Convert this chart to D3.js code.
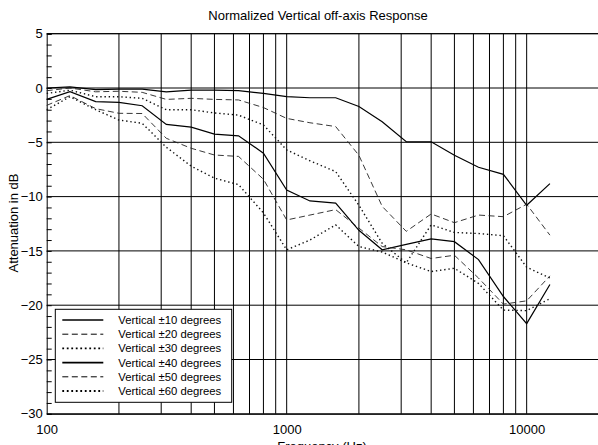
<!DOCTYPE html>
<html>
<head>
<meta charset="utf-8">
<style>
  body { margin: 0; background: #fff; }
  svg text { font-family: "Liberation Sans", Arial, Helvetica, sans-serif; fill: #000; }
</style>
</head>
<body>
<div id="chart"></div>
<script src="https://d3js.org/d3.v7.min.js"></script>
<script>
// third-octave centre frequencies (Hz)
var freqs = [100, 125, 160, 200, 250, 315, 400, 500, 630, 800, 1000, 1250, 1600, 2000, 2500, 3150, 4000, 5000, 6300, 8000, 10000, 12500];

// attenuation in dB
var vert10 = [0, 0.1, -0.15, -0.1, -0.1, -0.35, -0.2, -0.2, -0.25, -0.5, -0.8, -0.9, -0.9, -1.7, -3.1, -4.95, -4.95, -6.2, -7.3, -7.95, -10.8, -8.8];
var vert20 = [-0.25, 0, -0.35, -0.3, -0.4, -1.05, -0.95, -1.05, -1.1, -1.8, -2.8, -3.2, -3.55, -6.2, -10.9, -13.2, -11.6, -12.4, -11.7, -11.85, -10.7, -13.55];
var vert30 = [-0.5, -0.2, -0.8, -0.8, -0.95, -2.0, -2.0, -2.3, -2.5, -3.4, -5.7, -6.7, -7.7, -10.8, -14.3, -16.1, -12.6, -13.3, -13.4, -13.6, -16.5, -17.5];
var vert40 = [-1.05, -0.34, -1.26, -1.32, -1.63, -3.35, -3.6, -4.24, -4.4, -6.0, -9.4, -10.4, -10.6, -13.1, -14.9, -14.4, -13.9, -14.15, -15.8, -19.2, -21.7, -18.1];
var vert50 = [-1.6, -0.7, -1.9, -2.33, -2.35, -4.63, -5.55, -6.17, -6.3, -8.4, -12.15, -11.7, -11.2, -12.9, -14.6, -14.9, -15.7, -15.4, -17.5, -19.9, -19.6, -17.3];
var vert60 = [-2.0, -0.8, -2.0, -2.95, -3.25, -5.45, -7.2, -8.3, -8.9, -11.5, -14.9, -14.0, -12.6, -14.6, -15.1, -16.1, -16.9, -16.6, -18.0, -20.45, -20.5, -19.4];

var seriesNames = ["Vertical \u00b110 degrees", "Vertical \u00b120 degrees", "Vertical \u00b130 degrees",
                   "Vertical \u00b140 degrees", "Vertical \u00b150 degrees", "Vertical \u00b160 degrees"];
var seriesValues = [vert10, vert20, vert30, vert40, vert50, vert60];

// axis ticks
var xLabelTicks = [100, 1000, 10000];
var xGridTicks = [200, 300, 400, 500, 600, 700, 800, 900, 1000, 2000, 3000, 4000, 5000, 6000, 7000, 8000, 9000, 10000];
var yLabelTicks = [5, 0, -5, -10, -15, -20, -25, -30];
var yMinorTicks = d3.range(-30, 6, 1);

// line styles: solid, dashed, dotted, repeated
var styles = [
  { dash: null, width: 1.2, color: "#000" },
  { dash: "6,3.5", width: 0.9, color: "#222" },
  { dash: "1.4,2.8", width: 1.4, color: "#111" },
  { dash: null, width: 1.2, color: "#000" },
  { dash: "6,3.5", width: 0.9, color: "#222" },
  { dash: "1.4,2.8", width: 1.4, color: "#111" }
];

var W = 598, H = 445;
var margin = { top: 33.7, left: 46.7, bottom: 413.8 };

var x = d3.scaleLog().domain([100, 20000]).range([margin.left, 598.9]);
var y = d3.scaleLinear().domain([5, -30]).range([margin.top, margin.bottom]);

var svg = d3.select("#chart").append("svg")
    .attr("width", W)
    .attr("height", H);

// grid
var grid = svg.append("g").attr("stroke", "#000").attr("stroke-width", 1);
grid.selectAll("line.vg").data(xGridTicks).enter().append("line")
    .attr("class", "vg")
    .attr("x1", function(d) { return x(d); })
    .attr("x2", function(d) { return x(d); })
    .attr("y1", margin.top)
    .attr("y2", margin.bottom);
grid.selectAll("line.hg").data(yLabelTicks).enter().append("line")
    .attr("class", "hg")
    .attr("x1", margin.left)
    .attr("x2", x(20000))
    .attr("y1", function(d) { return y(d); })
    .attr("y2", function(d) { return y(d); });

// minor ticks on the left edge, pointing in
svg.append("g")
    .attr("transform", "translate(" + margin.left + ",0)")
    .call(d3.axisRight(y).tickValues(yMinorTicks).tickSize(5).tickFormat(""))
    .call(function(g) { g.select(".domain").attr("stroke", "#000"); });

// y labels
svg.append("g")
    .attr("transform", "translate(" + margin.left + ",0)")
    .call(d3.axisLeft(y).tickValues(yLabelTicks).tickSize(0).tickPadding(4))
    .call(function(g) {
      g.select(".domain").remove();
      g.selectAll("text").style("font-size", "13px").attr("font-family", null);
    });

// x labels
svg.append("g")
    .attr("transform", "translate(0," + margin.bottom + ")")
    .call(d3.axisBottom(x).tickValues(xLabelTicks).tickSize(0).tickPadding(11).tickFormat(d3.format("d")))
    .call(function(g) {
      g.select(".domain").attr("stroke", "#000");
      g.selectAll("text").style("font-size", "13px").attr("font-family", null);
    });

// top frame
svg.append("line")
    .attr("x1", margin.left).attr("x2", x(20000))
    .attr("y1", margin.top).attr("y2", margin.top)
    .attr("stroke", "#000");

// curves
var line = d3.line()
    .x(function(d) { return x(d[0]); })
    .y(function(d) { return y(d[1]); });

seriesValues.forEach(function(vals, i) {
  svg.append("path")
      .datum(freqs.map(function(f, j) { return [f, vals[j]]; }))
      .attr("fill", "none")
      .attr("stroke", styles[i].color)
      .attr("stroke-width", styles[i].width)
      .attr("stroke-dasharray", styles[i].dash)
      .attr("d", line);
});

// legend
var legend = svg.append("g").attr("transform", "translate(55.3,309.3)");
legend.append("rect")
    .attr("width", 176.4)
    .attr("height", 93)
    .attr("fill", "#fff")
    .attr("stroke", "#000")
    .attr("stroke-width", 1);

var rows = legend.selectAll("g.row").data(seriesNames).enter().append("g")
    .attr("class", "row")
    .attr("transform", function(d, i) { return "translate(0," + (10.7 + i * 14.2) + ")"; });
rows.append("line")
    .attr("x1", 7).attr("x2", 48)
    .attr("stroke", "#000")
    .attr("stroke-width", function(d, i) { return styles[i].dash ? (i % 3 === 2 ? 1.8 : 1) : 1.6; })
    .attr("stroke-dasharray", function(d, i) { return i % 3 === 2 ? "1.8,2.7" : styles[i].dash; });
rows.append("text")
    .attr("x", 63)
    .attr("dy", "0.35em")
    .style("font-size", "11.3px")
    .text(function(d) { return d; });

// titles
svg.append("text")
    .attr("x", 318)
    .attr("y", 20)
    .attr("text-anchor", "middle")
    .style("font-size", "13px")
    .text("Normalized Vertical off-axis Response");

svg.append("text")
    .attr("x", 322)
    .attr("y", 451)
    .attr("text-anchor", "middle")
    .style("font-size", "13px")
    .text("Frequency (Hz)");

svg.append("text")
    .attr("transform", "translate(18,223) rotate(-90)")
    .attr("text-anchor", "middle")
    .style("font-size", "13px")
    .text("Attenuation in dB");
</script>
</body>
</html>
